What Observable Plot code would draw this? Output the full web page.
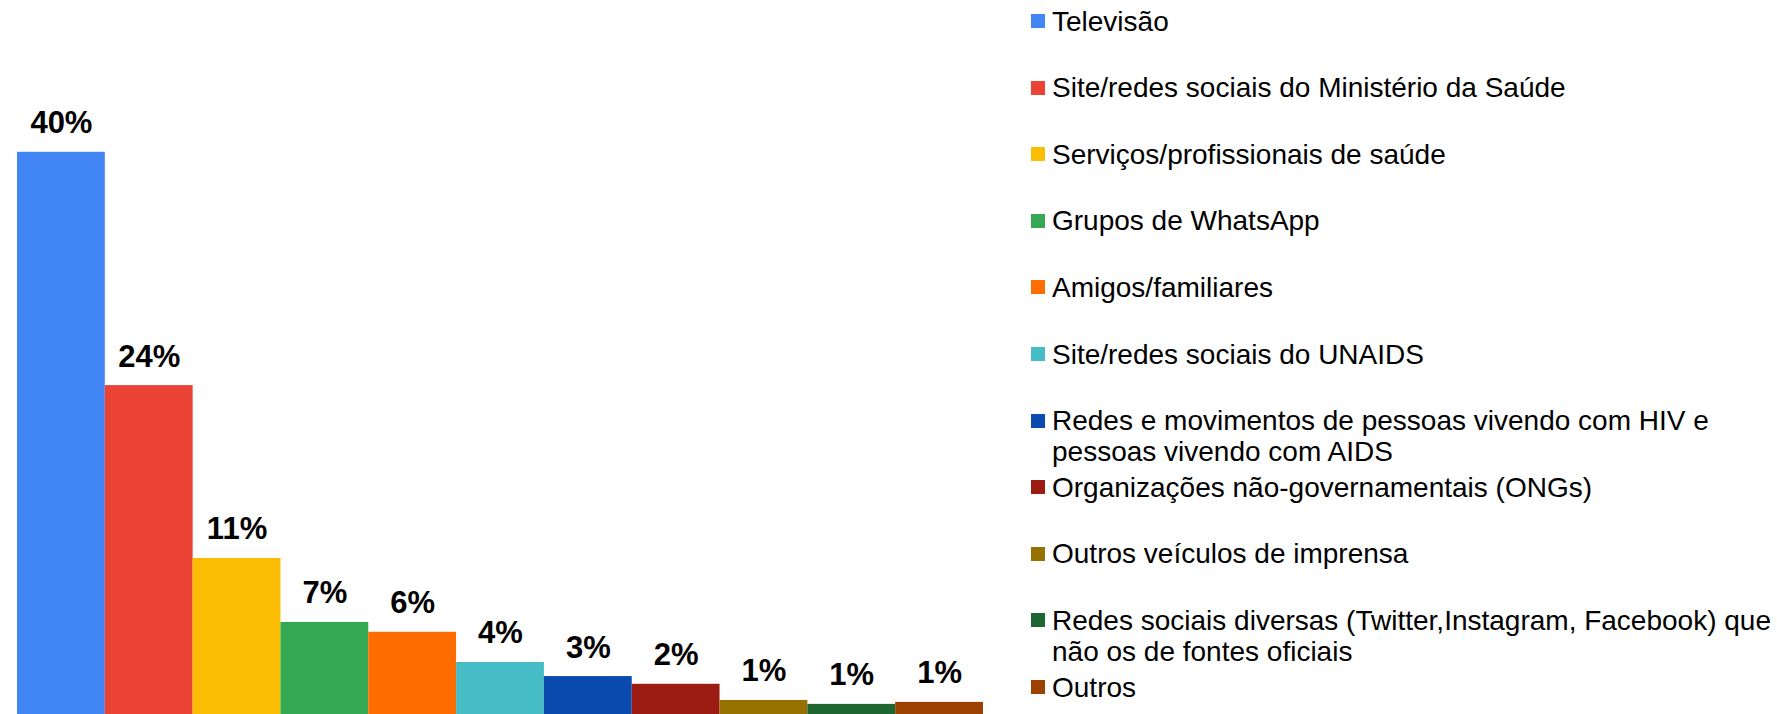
<!DOCTYPE html>
<html>
<head>
<meta charset="utf-8">
<script src="https://cdn.jsdelivr.net/npm/d3@7"></script>
<script src="https://cdn.jsdelivr.net/npm/@observablehq/plot@0.6"></script>
<style>
  html, body { margin: 0; padding: 0; background: #fff; }
  #wrap { position: relative; width: 1777px; height: 714px; overflow: hidden; font-family: "Liberation Sans", Arial, sans-serif; }
  #chart { position: absolute; left: 0; top: 0; }
  #legend { position: absolute; left: 1031px; top: 0; width: 746px; }
  .item { position: absolute; left: 0; width: 746px; }
  .key { position: absolute; left: 0; width: 14px; height: 14px; }
  .lab { position: absolute; left: 21px; width: 724px; font-size: 28px; line-height: 31px; color: #000; }
</style>
</head>
<body>
<div id="wrap">
  <div id="chart"></div>
  <div id="legend"></div>
</div>
<script>
const categories = [
  "Televisão",
  "Site/redes sociais do Ministério da Saúde",
  "Serviços/profissionais de saúde",
  "Grupos de WhatsApp",
  "Amigos/familiares",
  "Site/redes sociais do UNAIDS",
  "Redes e movimentos de pessoas vivendo com HIV e pessoas vivendo com AIDS",
  "Organizações não-governamentais (ONGs)",
  "Outros veículos de imprensa",
  "Redes sociais diversas (Twitter,Instagram, Facebook) que não os de fontes oficiais",
  "Outros"
];
const values = [40, 23.4, 11.1, 6.55, 5.85, 3.7, 2.7, 2.15, 1.0, 0.72, 0.86];
const labels = ["40%", "24%", "11%", "7%", "6%", "4%", "3%", "2%", "1%", "1%", "1%"];
const colors = ["#4285F4", "#EA4335", "#FBBC04", "#34A853", "#FF6D01", "#46BDC6",
                "#0B4BB0", "#9C1B13", "#977100", "#1E6632", "#9D4100"];

const data = categories.map((c, i) => ({category: c, value: values[i], label: labels[i]}));

const plot = Plot.plot({
  width: 1000,
  height: 714,
  marginLeft: 17,
  marginRight: 17,
  marginTop: 0,
  marginBottom: 0,
  style: {fontFamily: "'Liberation Sans', Arial, sans-serif", background: "transparent"},
  x: {domain: categories, axis: null, paddingInner: 0, paddingOuter: 0, round: false},
  y: {domain: [0, 50.8], axis: null},
  color: {domain: categories, range: colors},
  marks: [
    Plot.barY(data, {x: "category", y: "value", fill: "category", inset: 0}),
    Plot.text(data, {x: "category", y: "value", text: "label", dy: -19, lineAnchor: "bottom",
      fontSize: 31, fontWeight: "bold", fill: "#000"})
  ]
});
document.getElementById("chart").appendChild(plot);

const legend = document.getElementById("legend");
const slot = 66.6;
categories.forEach((c, i) => {
  const item = document.createElement("div");
  item.className = "item";
  item.style.top = (5.5 + slot * i) + "px";
  const key = document.createElement("div");
  key.className = "key";
  key.style.top = "8.5px";
  key.style.background = plot.scale("color").apply(c);
  const lab = document.createElement("div");
  lab.className = "lab";
  lab.style.top = "0px";
  lab.textContent = c;
  item.appendChild(key);
  item.appendChild(lab);
  legend.appendChild(item);
});
</script>
</body>
</html>
